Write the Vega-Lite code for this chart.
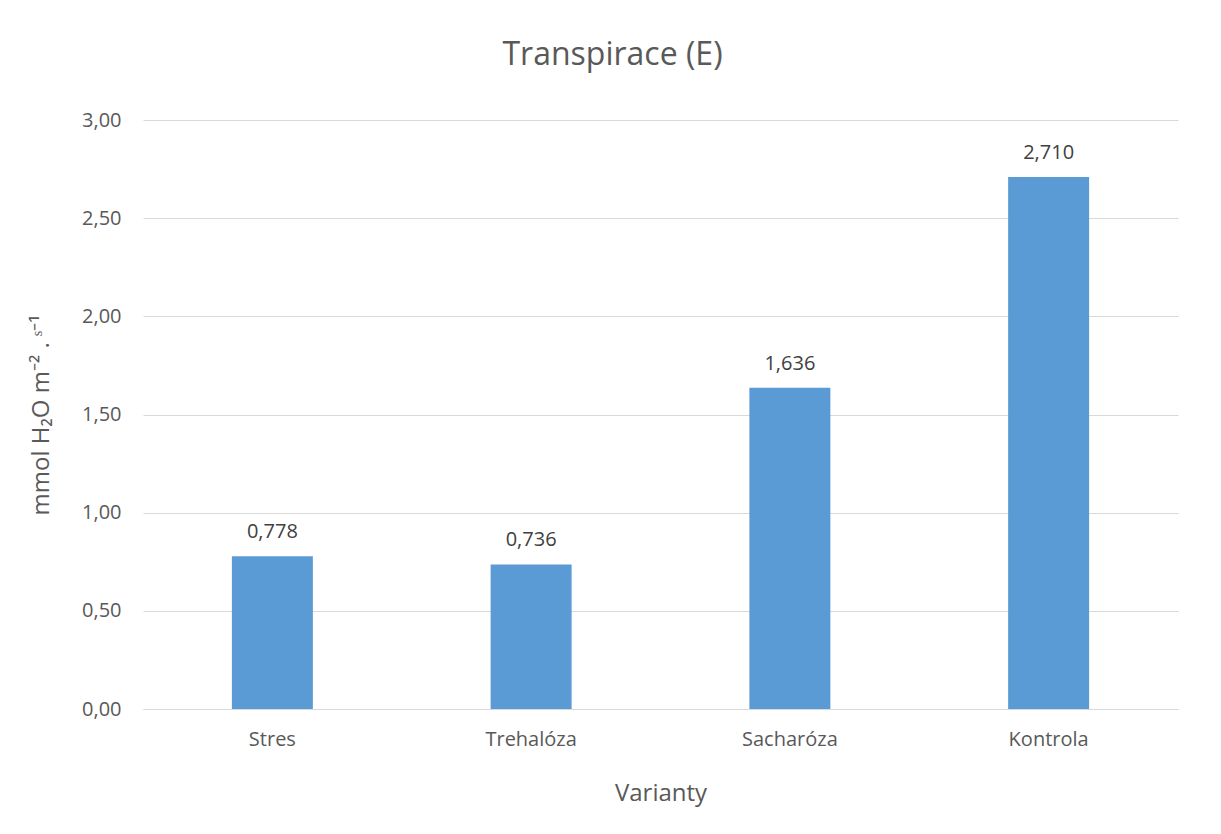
{
  "$schema": "https://vega.github.io/schema/vega-lite/v6.json",
  "autosize": {"type": "none"},
  "width": 1035,
  "height": 589,
  "padding": {"left": 143, "top": 120, "right": 43, "bottom": 125},
  "background": "white",
  "title": {
    "text": "Transpirace (E)",
    "fontSize": 32,
    "font": "Open Sans",
    "fontWeight": "normal",
    "color": "#595959",
    "anchor": "middle",
    "dx": -48,
    "offset": 38
  },
  "data": {
    "values": [
      {"Varianta": "Stres", "E": 0.778},
      {"Varianta": "Trehalóza", "E": 0.736},
      {"Varianta": "Sacharóza", "E": 1.636},
      {"Varianta": "Kontrola", "E": 2.710}
    ]
  },
  "encoding": {
    "x": {
      "field": "Varianta",
      "type": "nominal",
      "sort": null,
      "scale": {"paddingInner": 0.687, "paddingOuter": 0.3435},
      "axis": {
        "title": "Varianty",
        "labelAngle": 0,
        "ticks": false,
        "domainColor": "#D9D9D9",
        "labelPadding": 20,
        "titlePadding": 32
      }
    },
    "y": {
      "field": "E",
      "type": "quantitative",
      "scale": {"domain": [0, 3]},
      "axis": {
        "title": "mmol H₂O m⁻² . ˢ⁻¹",
        "values": [0, 0.5, 1, 1.5, 2, 2.5, 3],
        "labelExpr": "replace(format(datum.value, '.2f'), '.', ',')",
        "ticks": false,
        "domain": false,
        "gridColor": "#D9D9D9",
        "labelPadding": 22,
        "titlePadding": 28
      }
    }
  },
  "layer": [
    {"mark": {"type": "bar", "color": "#5B9BD5"}},
    {
      "mark": {
        "type": "text",
        "baseline": "alphabetic",
        "dy": -18,
        "fontSize": 20,
        "font": "Open Sans",
        "color": "#404040",
        "text": {"expr": "replace(format(datum.E, '.3f'), '.', ',')"}
      }
    }
  ],
  "config": {
    "view": {"stroke": null},
    "axis": {
      "labelFont": "Open Sans",
      "labelFontSize": 20,
      "labelColor": "#595959",
      "titleFont": "Open Sans",
      "titleFontSize": 24,
      "titleFontWeight": "normal",
      "titleColor": "#595959"
    }
  }
}
